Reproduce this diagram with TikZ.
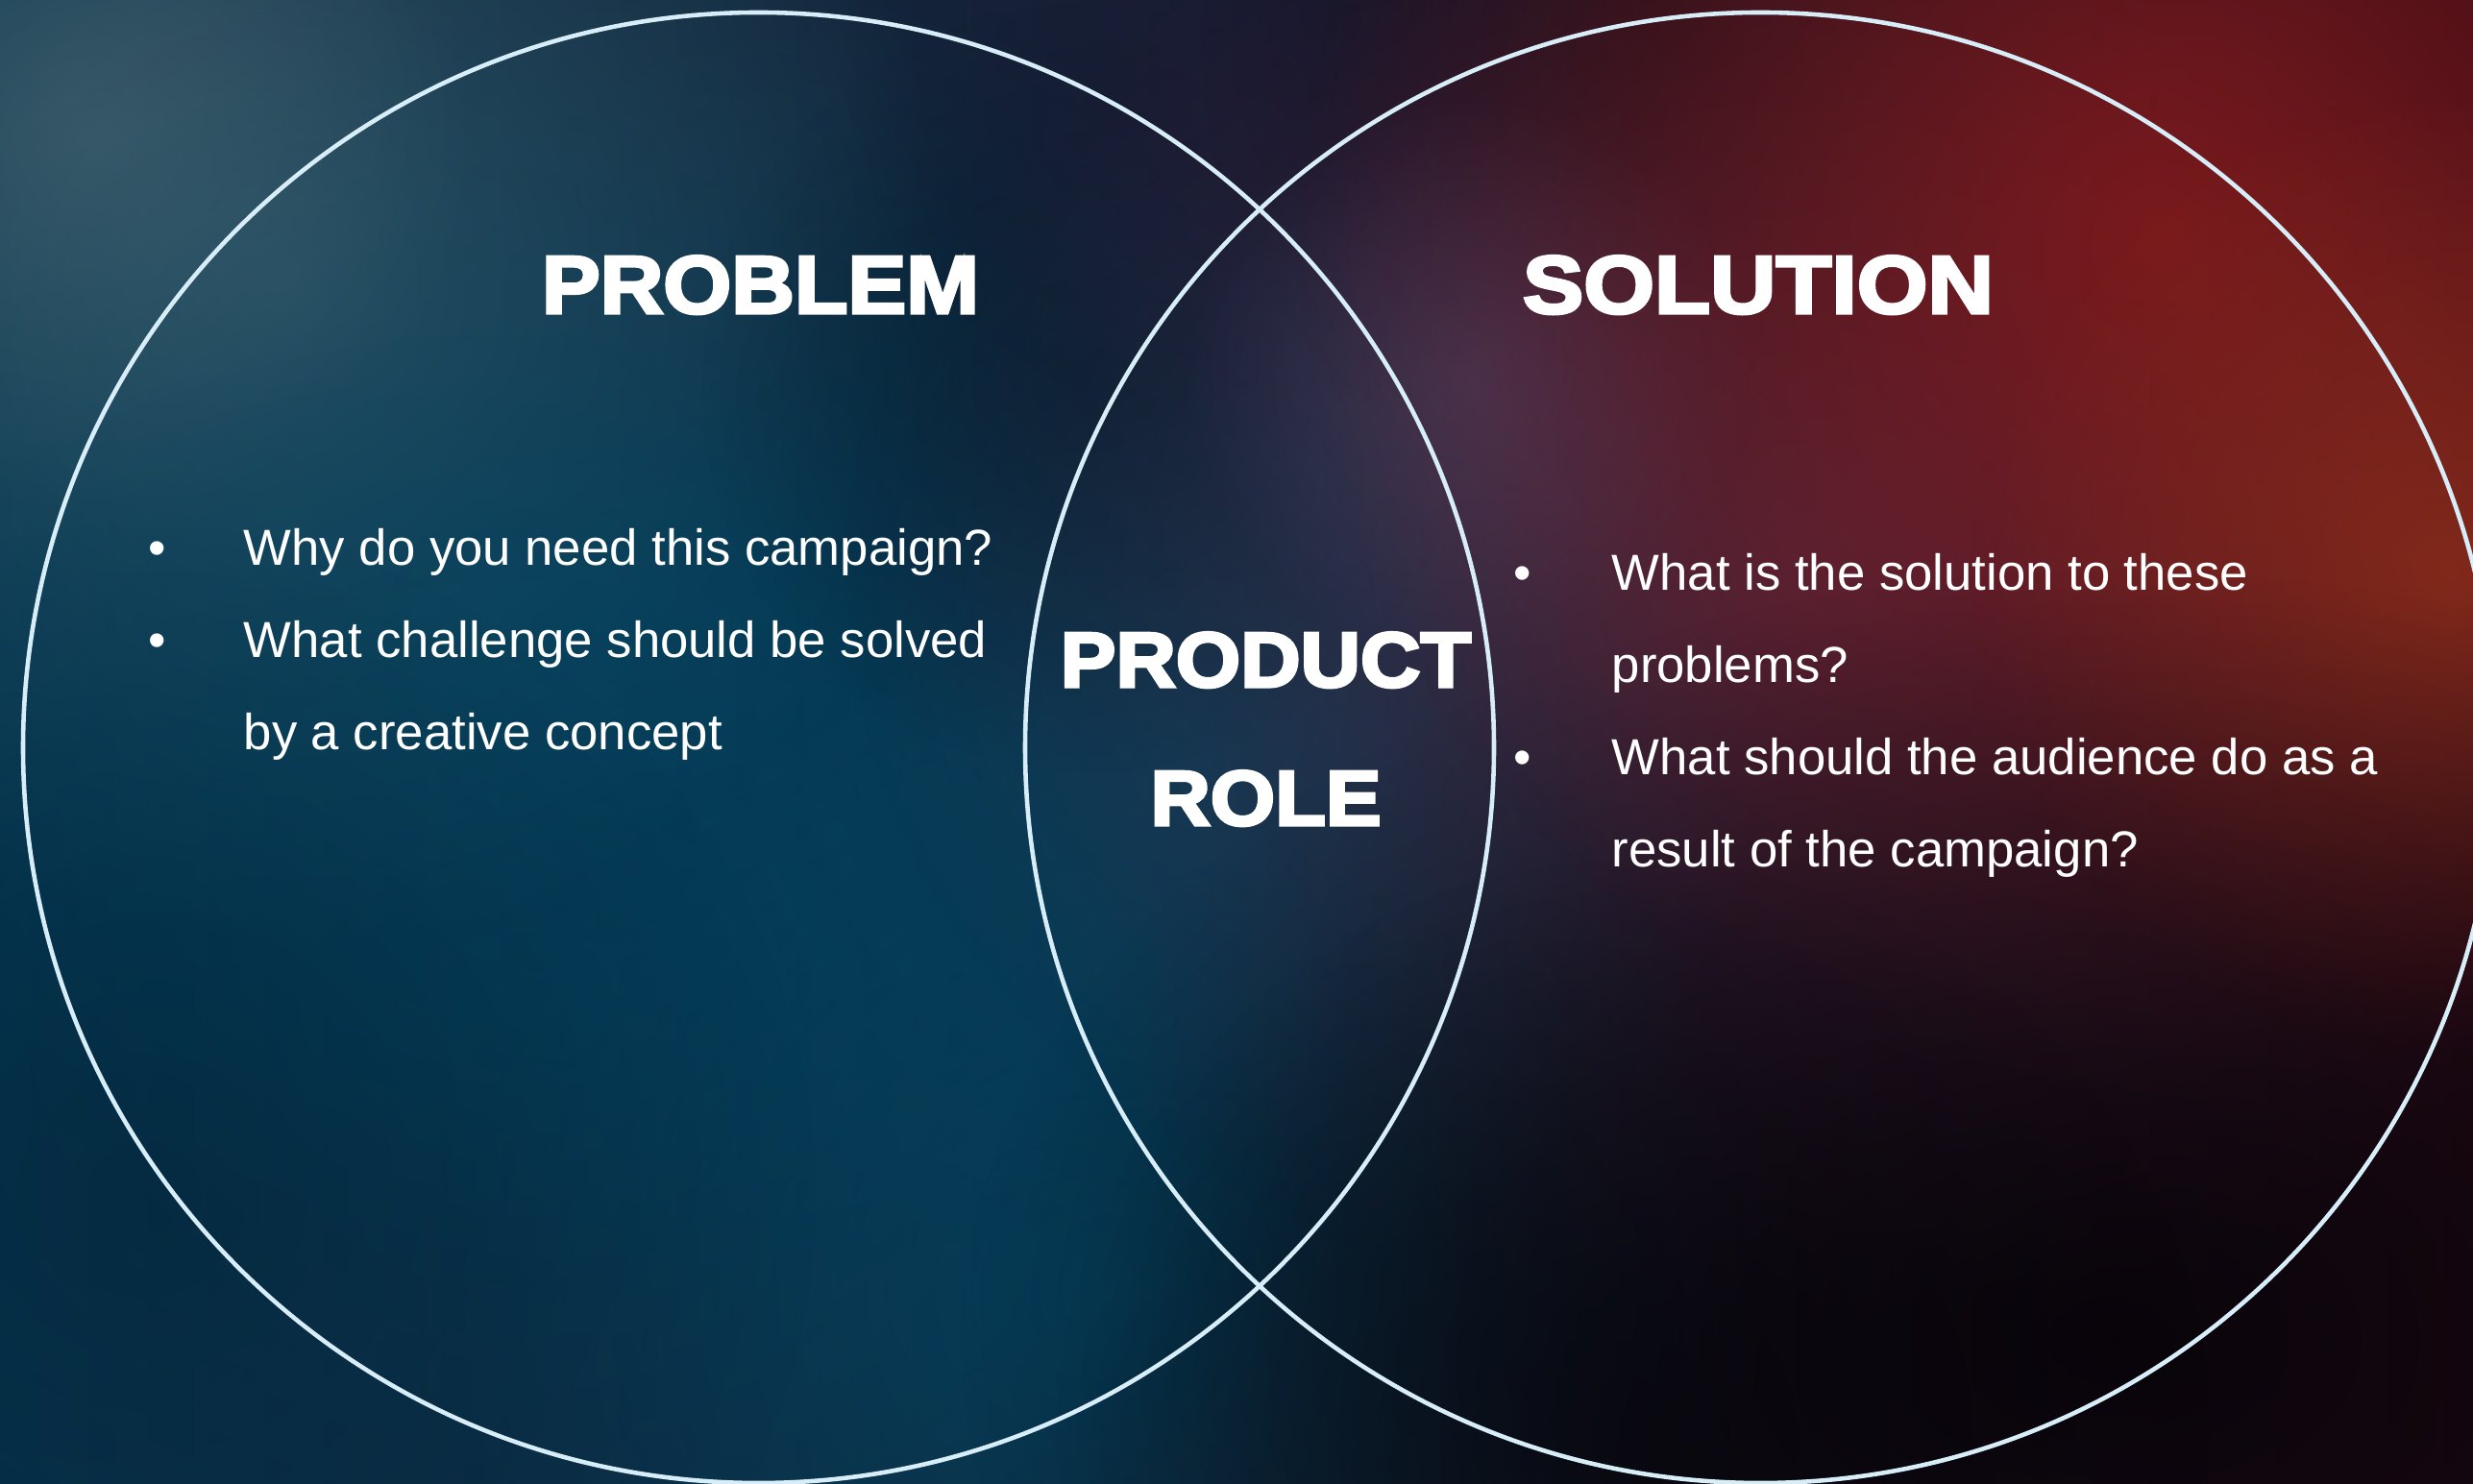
\documentclass[tikz,border=0pt]{standalone}
\usepackage{fontspec}
\setmainfont{Liberation Sans}
\newfontfamily\headfont[FakeStretch=1.07,FakeBold=4]{Liberation Sans Bold}
\newfontfamily\headwide[FakeStretch=1.115,FakeBold=4]{Liberation Sans Bold}
\usetikzlibrary{positioning,fadings}

\definecolor{bgleft}{RGB}{8,52,78}
\definecolor{bgmid}{RGB}{12,38,60}
\definecolor{bgright}{RGB}{40,10,22}
\definecolor{smoke}{RGB}{80,108,118}
\definecolor{tealblue}{RGB}{0,72,102}
\definecolor{deepblue}{RGB}{0,18,32}
\definecolor{navy}{RGB}{26,26,52}
\definecolor{ember}{RGB}{140,26,26}
\definecolor{rust}{RGB}{140,46,26}
\definecolor{plum}{RGB}{92,46,74}
\definecolor{lilac}{RGB}{92,82,122}
\definecolor{soot}{RGB}{5,3,8}
\definecolor{ringcol}{RGB}{215,238,248}

\tikzfading[name=puff, inner color=transparent!0, outer color=transparent!100]

\begin{document}
\begin{tikzpicture}[
    ring/.style={draw=ringcol, line width=1.3pt},
    head/.style={font=\headfont\fontsize{24.2}{29}\selectfont, text=white, anchor=base, inner sep=0pt},
    qline/.style={font=\fontsize{15}{18}\selectfont, text=white, anchor=base west, inner sep=0pt},
    dot/.style={font=\fontsize{15}{18}\selectfont, text=white, anchor=base, inner sep=0pt}
  ]
  \useasboundingbox (0,0) rectangle (25.74,15.45);
  \clip (0,0) rectangle (25.74,15.45);

%% smoky background
  \shade[left color=bgleft, middle color=bgmid, right color=bgright] (0,0) rectangle (25.74,15.45);
  \foreach \x/\y/\rx/\ry/\c/\o in {
      3.0/12.5/7/7/smoke/0.55, 1.0/14.0/4/4/smoke/0.5,
      6.5/9.0/9/7/tealblue/0.6, 11.5/2.0/7/7/tealblue/0.7,
      12.5/8.0/6/6/tealblue/0.5, 5.5/5.0/9/7/tealblue/0.45,
      1.5/3.0/7/7/deepblue/0.3, 11.3/11.4/4/4/deepblue/0.5,
      13.8/14.8/5/4/navy/0.8, 17.5/15.0/5/5/soot/0.6,
      18.8/9.5/10/8/plum/0.6, 15.3/11.5/3/3/lilac/0.4,
      22.5/13.0/9/9/ember/0.8, 25.5/9.5/5/5/rust/0.8,
      22.0/1.5/12/8/soot/0.85, 17.0/0.5/6/6/soot/0.6}
    \fill[\c, fill opacity=\o, path fading=puff] (\x,\y) ellipse ({\rx} and {\ry});

%% the two sets
  \coordinate (lc) at (7.895,7.665);
  \coordinate (rc) at (18.325,7.665);
  \draw[ring] (lc) circle (7.655);
  \draw[ring] (rc) circle (7.655);

%% headings
  \node[head] (prob) at (7.915,12.19) {PROBLEM};
  \node[head, font=\headwide\fontsize{24.2}{29}\selectfont] (sol) at (18.30,12.19) {SOLUTION};
  \node[head, font=\headfont\fontsize{23}{28}\selectfont] (prod) at (13.175,8.30) {PRODUCT};
  \node[head, font=\headfont\fontsize{23}{28}\selectfont, below=1.44cm of prod.base, anchor=base] (role) {ROLE};

%% questions, left
  \node[qline] (p1) at (2.53,9.56) {Why do you need this campaign?};
  \node[qline, below=0.96cm of p1.base west, anchor=base west] (p2) {What challenge should be solved};
  \node[qline, below=0.96cm of p2.base west, anchor=base west] (p3) {by a creative concept};
  \node[dot] (pb1) at (1.64,9.56) {•};
  \node[dot] (pb2) at (1.64,8.60) {•};

%% questions, right
  \node[qline] (s1) at (16.77,9.30) {What is the solution to these};
  \node[qline, below=0.96cm of s1.base west, anchor=base west] (s2) {problems?};
  \node[qline, below=0.96cm of s2.base west, anchor=base west] (s3) {What should the audience do as a};
  \node[qline, below=0.96cm of s3.base west, anchor=base west] (s4) {result of the campaign?};
  \node[dot] (sb1) at (15.85,9.30) {•};
  \node[dot] (sb2) at (15.85,7.38) {•};
\end{tikzpicture}
\end{document}
